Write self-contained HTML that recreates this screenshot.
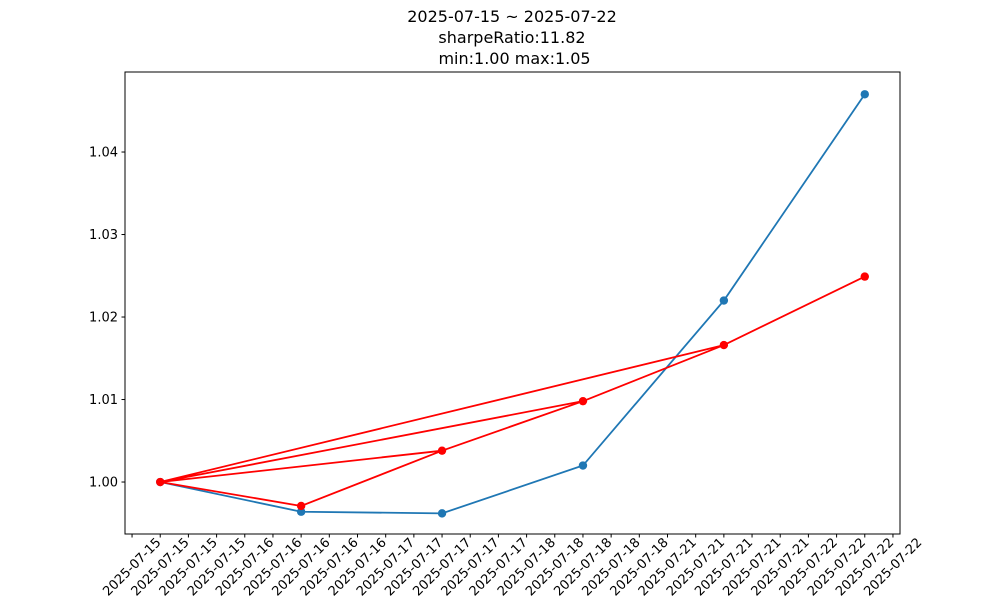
<!DOCTYPE html>
<html><head><meta charset="utf-8"><style>body{margin:0;background:#fff}svg{display:block;font-family:"DejaVu Sans","Liberation Sans",sans-serif}</style></head>
<body>
<svg id="chart" width="1000" height="600" viewBox="0 0 1000 600" xmlns="http://www.w3.org/2000/svg">
<rect width="1000" height="600" fill="#fff"/>
<text text-anchor="middle" font-size="16" fill="#000"><tspan x="512" y="22">2025-07-15 ~ 2025-07-22</tspan><tspan x="512" y="43">sharpeRatio:11.82</tspan><tspan x="512" y="64"> min:1.00 max:1.05</tspan></text>
<g id="grid"></g>
<rect x="125" y="72" width="775" height="462" fill="none" stroke="#000" stroke-width="1"/>
</svg>
<script>
const dates = ["2025-07-15","2025-07-16","2025-07-17","2025-07-18","2025-07-21","2025-07-22"];
const blueValues = [1.0000, 0.9964, 0.9962, 1.0020, 1.0220, 1.0470];
const redValues = [1.0000, 0.9971, 1.0038, 1.0098, 1.0166, 1.0249];
const yTicks = [1.00, 1.01, 1.02, 1.03, 1.04];

const NS = "http://www.w3.org/2000/svg";
const svg = document.getElementById("chart");
const L=125,R=900,T=72,B=534;
const xMin=-0.25,xMax=5.25,yMin=0.99370,yMax=1.04970;
const xs = i => L + (i - xMin)/(xMax - xMin)*(R-L);
const ys = v => B - (v - yMin)/(yMax - yMin)*(B-T);
function mk(tag, attrs){const e=document.createElementNS(NS,tag);for(const k in attrs)e.setAttribute(k,attrs[k]);svg.appendChild(e);return e;}

// y ticks
yTicks.forEach(v=>{
  const y=ys(v);
  const t=mk("line",{x1:L-3.5,x2:L,y1:y,y2:y,stroke:"#000"});
  
  
  const l=mk("text",{x:L-7,y:y+4.5,"text-anchor":"end","font-size":"13"});
  l.textContent=v.toFixed(2);
  
  
});
// x ticks every 0.2 index
for(let k=-1;k<=26;k++){
  const i=k*0.2;
  const x=xs(i);
  const t=mk("line",{x1:x,x2:x,y1:B,y2:B+3.5,stroke:"#000"});
  
  
  const idx=Math.min(dates.length-1,Math.max(0,Math.round(i+1e-9)));
  const l=mk("text",{x:x,y:571,"text-anchor":"middle","font-size":"13",transform:`rotate(-45 ${x} 567)`});
  l.textContent=dates[idx];
  
  
}
// blue series
const bp=blueValues.map((v,i)=>`${xs(i)},${ys(v)}`).join(" ");
const bl=mk("polyline",{points:bp,fill:"none",stroke:"#1f77b4","stroke-width":"1.8"});


blueValues.forEach((v,i)=>{
  const c=mk("circle",{cx:xs(i),cy:ys(v),r:4.2,fill:"#1f77b4"});
  
  
});
// red series: cumulative concatenated paths
const redIdx=[];
for(let n=2;n<=redValues.length;n++){for(let i=0;i<n;i++)redIdx.push(i);}
const rp=redIdx.map(i=>`${xs(i)},${ys(redValues[i])}`).join(" ");
const rl=mk("polyline",{points:rp,fill:"none",stroke:"#ff0000","stroke-width":"1.8"});


redValues.forEach((v,i)=>{
  const c=mk("circle",{cx:xs(i),cy:ys(v),r:4.2,fill:"#ff0000"});
  
  
});
</script>
</body></html>
